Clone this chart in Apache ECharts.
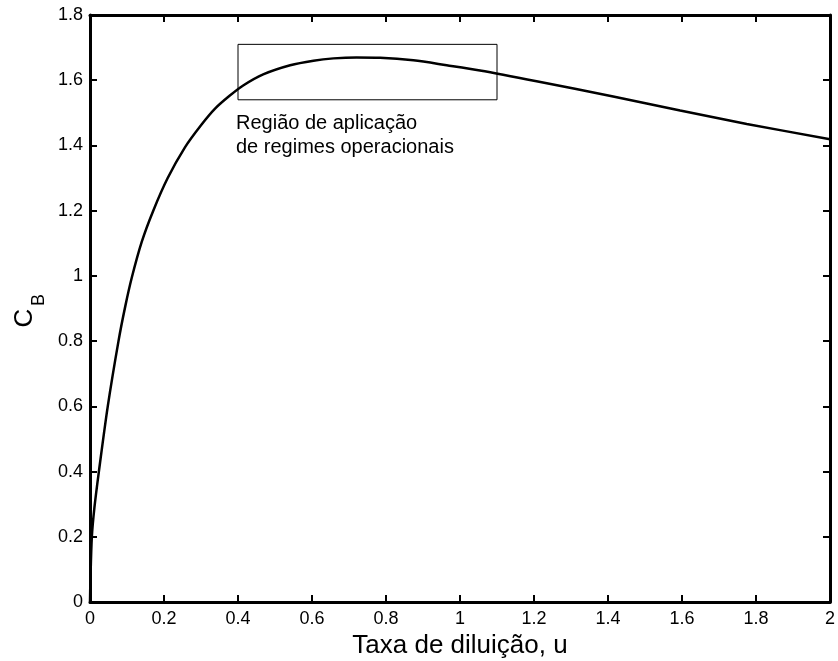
<!DOCTYPE html>
<html>
<head>
<meta charset="utf-8">
<script src="https://cdn.jsdelivr.net/npm/echarts@6/dist/echarts.min.js"></script>
<style>
html,body{margin:0;padding:0;background:#fff;}
#chart{width:838px;height:661px;}
</style>
</head>
<body>
<div id="chart"></div>
<script>
// Data
const uValues = [0, 0.001, 0.005, 0.012, 0.024, 0.048, 0.077, 0.095, 0.113, 0.14, 0.171, 0.21, 0.257, 0.3, 0.338, 0.378, 0.414, 0.468, 0.541, 0.604, 0.658, 0.72, 0.784, 0.874, 0.964, 1.054, 1.207, 1.414, 1.595, 1.775, 2.0];
const cbValues = [0, 0.06, 0.2, 0.29, 0.4, 0.6, 0.8, 0.905, 0.995, 1.105, 1.2, 1.30, 1.395, 1.462, 1.513, 1.553, 1.584, 1.618, 1.646, 1.660, 1.667, 1.670, 1.669, 1.661, 1.646, 1.630, 1.597, 1.550, 1.507, 1.466, 1.419];
const regionU = [0.4, 1.1];
const regionCB = [1.54, 1.71];
const annotationLines = ['Região de aplicação', 'de regimes operacionais'];
const xTitle = 'Taxa de diluição, u';
const yTitleMain = 'C';
const yTitleSub = 'B';

const font = 'Liberation Sans, Arial, Helvetica, sans-serif';
const chart = echarts.init(document.getElementById('chart'));

const seriesData = uValues.map((u, i) => [u, cbValues[i]]);

function fmt(v) { return String(Math.round(v * 10) / 10); }

const baseAxis = {
  axisLine: { show: true, onZero: false, lineStyle: { color: '#000', width: 3 } },
  axisTick: { show: true, inside: true, length: 7, lineStyle: { color: '#000', width: 2 } },
  splitLine: { show: false },
  min: 0,
  interval: 0.2
};

const option = {
  backgroundColor: '#fff',
  animation: false,
  grid: { left: 90, top: 15, right: 8, bottom: 59, containLabel: false, outerBoundsMode: 'none' },
  xAxis: [
    Object.assign({}, baseAxis, {
      type: 'value', max: 2, position: 'bottom',
      axisLabel: { color: '#000', fontSize: 18, fontFamily: font, margin: 8, formatter: fmt },
      name: xTitle, nameLocation: 'middle', nameGap: 30,
      nameTextStyle: { color: '#000', fontSize: 26, fontFamily: font }
    }),
    Object.assign({}, baseAxis, {
      type: 'value', max: 2, position: 'top',
      axisLabel: { show: false }
    })
  ],
  yAxis: [
    Object.assign({}, baseAxis, {
      type: 'value', max: 1.8, position: 'left',
      axisLabel: { color: '#000', fontSize: 18, fontFamily: font, margin: 7, formatter: fmt }
    }),
    Object.assign({}, baseAxis, {
      type: 'value', max: 1.8, position: 'right',
      axisLabel: { show: false }
    })
  ],
  graphic: [
    {
      type: 'text', x: 25, y: 318, rotation: Math.PI / 2,
      style: { text: yTitleMain, fontSize: 26, fontFamily: font, fill: '#000', align: 'center', verticalAlign: 'middle' }
    },
    {
      type: 'text', x: 39, y: 300, rotation: Math.PI / 2,
      style: { text: yTitleSub, fontSize: 18, fontFamily: font, fill: '#000', align: 'center', verticalAlign: 'middle' }
    },
    {
      type: 'text', x: 236, y: 111,
      style: { text: annotationLines.join('\n'), fontSize: 20, lineHeight: 24, fontFamily: font, fill: '#000', align: 'left', verticalAlign: 'top' }
    }
  ],
  series: [
    {
      type: 'line',
      data: seriesData,
      showSymbol: false,
      smooth: 0.3,
      lineStyle: { color: '#000', width: 2.5 },
      clip: true,
      markArea: {
        silent: true,
        itemStyle: { color: 'rgba(0,0,0,0)', borderColor: '#000', borderWidth: 1 },
        data: [[{ coord: [regionU[0], regionCB[1]] }, { coord: [regionU[1], regionCB[0]] }]]
      }
    }
  ]
};
chart.setOption(option);
</script>
</body>
</html>
